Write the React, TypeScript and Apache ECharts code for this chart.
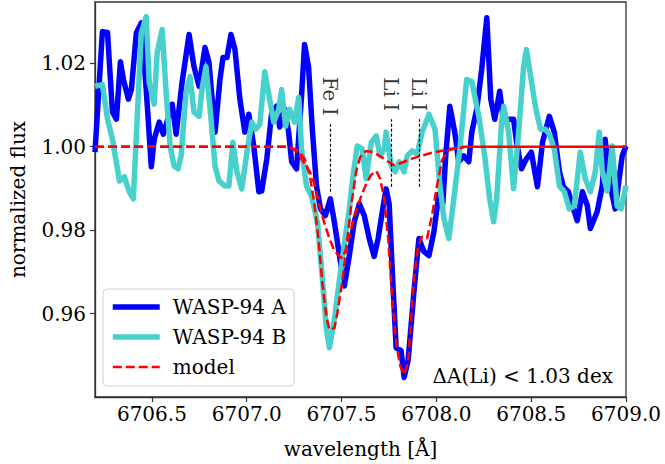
import React, { useEffect, useRef } from "react";
import * as echarts from "echarts";

// WASP-94 A spectrum around the Li 6708 doublet
const waveA = [
  6706.2, 6706.239, 6706.266, 6706.292, 6706.313, 6706.334, 6706.35, 6706.376, 6706.392, 6706.418,
  6706.444, 6706.47, 6706.497, 6706.512, 6706.539, 6706.56, 6706.607, 6706.628, 6706.659, 6706.696,
  6706.722, 6706.749, 6706.78, 6706.801, 6706.833, 6706.859, 6706.875, 6706.896, 6706.917, 6706.938,
  6706.964, 6706.99, 6707.011, 6707.037, 6707.064, 6707.079, 6707.106, 6707.132, 6707.158, 6707.174,
  6707.2, 6707.221, 6707.237, 6707.263, 6707.289, 6707.305, 6707.326, 6707.347, 6707.368, 6707.389,
  6707.415, 6707.441, 6707.462, 6707.489, 6707.515, 6707.541, 6707.567, 6707.594, 6707.62, 6707.646,
  6707.672, 6707.693, 6707.72, 6707.735, 6707.751, 6707.772, 6707.788, 6707.814, 6707.83, 6707.851,
  6707.882, 6707.908, 6707.934, 6707.961, 6707.987, 6708.013, 6708.034, 6708.05, 6708.071, 6708.097,
  6708.118, 6708.144, 6708.171, 6708.187, 6708.213, 6708.239, 6708.266, 6708.287, 6708.308, 6708.334,
  6708.355, 6708.381, 6708.407, 6708.423, 6708.449, 6708.475, 6708.501, 6708.533, 6708.56, 6708.596,
  6708.622, 6708.649, 6708.67, 6708.696, 6708.717, 6708.743, 6708.77, 6708.796, 6708.812, 6708.848,
  6708.875, 6708.89, 6708.917, 6708.943, 6708.98, 6709.0,
];
const fluxA = [
  0.9987, 1.0276, 1.0274, 1.0083, 1.0066, 1.0204, 1.0161, 1.0114, 1.0138, 1.0273,
  1.0297, 1.0138, 0.9952, 1.0018, 1.0059, 1.003, 1.0102, 1.003, 1.0154, 1.0269,
  1.0192, 1.0145, 1.0238, 1.0202, 1.0035, 1.0161, 1.0214, 1.0214, 1.0269, 1.0233,
  1.0114, 1.0035, 1.0078, 1.0002, 0.9892, 0.9894, 0.9971, 1.0083, 1.0097, 1.0047,
  1.009, 1.0035, 0.9964, 0.9947, 1.0121, 1.0245, 1.0192, 1.0035, 0.9906, 0.9851,
  0.9835, 0.9875, 0.982, 0.9739, 0.9666, 0.9739, 0.982, 0.9863, 0.9835, 0.978,
  0.9737, 0.978, 0.9859, 0.9899, 0.9863, 0.9661, 0.9518, 0.9511, 0.9447, 0.9487,
  0.9654, 0.978, 0.9749, 0.9739, 0.9796, 0.9886, 0.9863, 0.9982, 1.0097, 1.0035,
  0.9964, 0.9978, 0.9964, 1.0035, 1.009, 1.0185, 1.0309, 1.0114, 1.0066, 1.0133,
  1.0059, 1.0066, 1.0066, 1.0011, 0.9947, 0.9971, 0.9987, 0.9904, 1.0011, 1.0073,
  1.0035, 0.994, 0.9904, 0.9892, 0.9859, 0.9823, 0.9892, 0.9859, 0.9804, 0.9844,
  0.9906, 1.0018, 0.9906, 0.9851, 0.9978, 1.0002,
];

// WASP-94 B spectrum
const waveB = [
  6706.2, 6706.239, 6706.266, 6706.292, 6706.329, 6706.355, 6706.381, 6706.402, 6706.423, 6706.444,
  6706.47, 6706.486, 6706.512, 6706.528, 6706.554, 6706.575, 6706.596, 6706.617, 6706.638, 6706.654,
  6706.68, 6706.701, 6706.722, 6706.749, 6706.764, 6706.785, 6706.806, 6706.833, 6706.854, 6706.885,
  6706.906, 6706.927, 6706.948, 6706.974, 6707.001, 6707.027, 6707.048, 6707.069, 6707.095, 6707.121,
  6707.142, 6707.169, 6707.184, 6707.205, 6707.226, 6707.253, 6707.274, 6707.289, 6707.315, 6707.342,
  6707.374, 6707.399, 6707.42, 6707.436, 6707.462, 6707.488, 6707.515, 6707.541, 6707.562, 6707.583,
  6707.609, 6707.63, 6707.657, 6707.683, 6707.704, 6707.725, 6707.735, 6707.762, 6707.783, 6707.804,
  6707.83, 6707.846, 6707.872, 6707.899, 6707.925, 6707.961, 6707.993, 6708.019, 6708.04, 6708.066,
  6708.092, 6708.124, 6708.16, 6708.187, 6708.224, 6708.255, 6708.281, 6708.302, 6708.318, 6708.344,
  6708.355, 6708.381, 6708.407, 6708.434, 6708.46, 6708.475, 6708.522, 6708.549, 6708.575, 6708.596,
  6708.622, 6708.649, 6708.675, 6708.701, 6708.727, 6708.759, 6708.785, 6708.812, 6708.838, 6708.859,
  6708.875, 6708.901, 6708.927, 6708.953, 6708.974, 6709.0,
];
const fluxB = [
  1.0145, 1.0149, 1.0066, 1.0018, 0.9918, 0.9928, 0.9892, 0.9875, 1.0073, 1.0273,
  1.0312, 1.0154, 1.0102, 1.0226, 1.0281, 1.013, 1.0002, 0.9954, 0.9947, 0.9978,
  1.013, 1.0168, 1.0083, 1.0073, 1.0137, 1.0192, 1.0097, 0.9954, 0.9918, 0.9906,
  0.9906, 1.0011, 0.994, 0.9899, 0.9987, 1.0059, 1.0042, 1.0054, 1.018, 1.0114,
  1.0059, 1.009, 1.0137, 1.0049, 1.009, 1.0059, 1.0118, 0.9995, 0.9906, 0.9882,
  0.9815, 0.9684, 0.9565, 0.9518, 0.9585, 0.9677, 0.9768, 0.9851, 0.9935, 1.0002,
  0.9995, 0.9923, 1.0011, 1.0026, 0.9978, 0.9995, 1.0035, 0.9954, 0.994, 0.9964,
  0.994, 0.9978, 0.999, 0.9983, 1.0035, 1.0078, 1.0042, 0.9906, 0.9828, 0.978,
  0.9875, 0.9995, 1.0161, 1.0156, 1.0073, 0.9978, 0.9875, 0.982, 0.9875, 1.0059,
  1.0097, 1.0035, 0.9899, 1.0035, 1.0192, 1.0233, 1.0097, 1.0042, 1.0042, 1.003,
  0.9995, 0.9906, 0.9892, 0.9851, 0.9858, 0.9987, 0.9923, 0.9892, 0.994, 1.0035,
  0.994, 0.9894, 1.0002, 0.9858, 0.9851, 0.9906,
];

// Synthetic model fitted to WASP-94 A
const modelWaveA = [
  6706.2, 6707.2, 6707.237, 6707.274, 6707.305, 6707.331, 6707.357, 6707.384, 6707.41, 6707.436,
  6707.462, 6707.489, 6707.504, 6707.525, 6707.552, 6707.578, 6707.604, 6707.63, 6707.657, 6707.683,
  6707.704, 6707.725, 6707.746, 6707.767, 6707.788, 6707.809, 6707.83, 6707.851, 6707.867, 6707.882,
  6707.903, 6707.925, 6707.951, 6707.977, 6708.003, 6708.029, 6708.055, 6708.092, 6708.124, 6708.15,
];
const modelFluxA = [
  1.0, 1.0, 0.9997, 0.9983, 0.9959, 0.9942, 0.9911, 0.9859, 0.9816, 0.978,
  0.9751, 0.9737, 0.9733, 0.9756, 0.9804, 0.9847, 0.9882, 0.9911, 0.9933, 0.9942,
  0.9923, 0.9875, 0.978, 0.9637, 0.953, 0.9475, 0.9454, 0.9482, 0.9589, 0.9684,
  0.976, 0.9785, 0.978, 0.9835, 0.9906, 0.9966, 0.999, 0.9995, 0.9997, 1.0,
];

// Synthetic model fitted to WASP-94 B
const modelWaveB = [
  6706.2, 6707.2, 6707.237, 6707.274, 6707.305, 6707.331, 6707.357, 6707.378, 6707.399, 6707.42,
  6707.436, 6707.462, 6707.478, 6707.504, 6707.525, 6707.552, 6707.578, 6707.599, 6707.63, 6707.667,
  6707.709, 6707.746, 6707.777, 6707.814, 6707.867, 6707.919, 6707.972, 6708.024, 6708.076, 6708.118,
  6708.15,
];
const modelFluxB = [
  1.0, 1.0, 0.9997, 0.999, 0.9971, 0.9935, 0.9863, 0.978, 0.9673, 0.9594,
  0.9561, 0.9565, 0.9601, 0.9677, 0.9756, 0.9863, 0.9942, 0.9976, 0.999, 0.9987,
  0.9976, 0.9964, 0.9956, 0.9961, 0.9971, 0.9978, 0.9985, 0.999, 0.9995, 0.9997,
  1.0,
];

// Both models coincide with the continuum redward of the lines
const continuumWave = [6708.15, 6709.0];
const continuumFlux = [1.0, 1.0];

// Line identifications: label, wavelength, marker extent
const lineLabels = ["Fe I", "Li I", "Li I"];
const lineWaves = [6707.44, 6707.76, 6707.91];
const lineLow = [0.9892, 0.9904, 0.9904];
const lineHigh = [1.0054, 1.0066, 1.0066];
const lineLabelY = [1.0121, 1.0126, 1.0126];

const xTicks = [6706.5, 6707.0, 6707.5, 6708.0, 6708.5, 6709.0];
const yTicks = [0.96, 0.98, 1.0, 1.02];

const zip = (xs: number[], ys: number[]) => xs.map((x, i) => [x, ys[i]]);

const FONT = "'DejaVu Serif', 'Liberation Serif', serif";
const FS = 20;

export default function App() {
  const ref = useRef<HTMLDivElement>(null);

  useEffect(() => {
    if (!ref.current) return;
    const chart = echarts.init(ref.current, undefined, { renderer: "svg" });

    const axisColor = "#333";

    chart.setOption({
      animation: false,
      backgroundColor: "#fff",
      grid: {
        left: 93,
        top: 2,
        right: 39,
        bottom: 65,
        show: true,
        borderColor: axisColor,
        borderWidth: 1.3,
        backgroundColor: "transparent",
      },
      legend: {
        data: ["WASP-94 A", "WASP-94 B", "model"],
        orient: "vertical",
        left: 103,
        top: 289,
        padding: [7, 8, 8, 7],
        itemGap: 8,
        itemWidth: 47,
        itemHeight: 22,
        itemStyle: { opacity: 0 },
        lineStyle: { width: "inherit" },
        backgroundColor: "rgba(255,255,255,0.85)",
        borderColor: "#d0d0d0",
        borderWidth: 1,
        borderRadius: 4,
        textStyle: {
          fontFamily: FONT,
          fontSize: FS,
          color: "#000",
          padding: [0, 0, 0, 8],
          lineHeight: 22,
        },
      },
      xAxis: {
        type: "value",
        min: 6706.2,
        max: 6709.0,
        name: "wavelength [Å]",
        nameLocation: "middle",
        nameGap: 42,
        nameTextStyle: { fontFamily: FONT, fontSize: FS, color: "#000" },
        axisLine: { show: true, onZero: false, lineStyle: { color: axisColor, width: 1.3 } },
        axisTick: {
          show: true,
          length: 5,
          inside: false,
          customValues: xTicks,
          lineStyle: { color: axisColor, width: 1.2 },
        },
        axisLabel: {
          customValues: xTicks,
          margin: 7,
          fontFamily: FONT,
          fontSize: FS,
          color: "#000",
          formatter: (v: number) => v.toFixed(1),
        },
        splitLine: { show: false },
      },
      yAxis: {
        type: "value",
        min: 0.94,
        max: 1.0347,
        name: "normalized flux",
        nameLocation: "middle",
        nameGap: 67,
        nameTextStyle: { fontFamily: FONT, fontSize: FS, color: "#000" },
        axisLine: { show: true, onZero: false, lineStyle: { color: axisColor, width: 1.3 } },
        axisTick: {
          show: true,
          length: 5,
          inside: false,
          customValues: yTicks,
          lineStyle: { color: axisColor, width: 1.2 },
        },
        axisLabel: {
          customValues: yTicks,
          margin: 9,
          fontFamily: FONT,
          fontSize: FS,
          color: "#000",
          formatter: (v: number) => v.toFixed(2),
        },
        splitLine: { show: false },
      },
      series: [
        {
          name: "WASP-94 A",
          type: "line",
          data: zip(waveA, fluxA),
          showSymbol: false,
          symbol: "none",
          lineStyle: { color: "#0000ff", width: 5.5, join: "round" },
          itemStyle: { color: "#0000ff" },
          z: 2,
        },
        {
          name: "WASP-94 B",
          type: "line",
          data: zip(waveB, fluxB),
          showSymbol: false,
          symbol: "none",
          lineStyle: { color: "#48d1cc", width: 5.5, join: "round" },
          itemStyle: { color: "#48d1cc" },
          z: 3,
        },
        {
          name: "model",
          type: "line",
          data: zip(modelWaveA, modelFluxA),
          showSymbol: false,
          symbol: "none",
          lineStyle: { color: "#ff0000", width: 2.5, type: [9, 4] },
          itemStyle: { color: "#ff0000" },
          z: 4,
        },
        {
          name: "model",
          type: "line",
          data: zip(modelWaveB, modelFluxB),
          showSymbol: false,
          symbol: "none",
          lineStyle: { color: "#ff0000", width: 2.5, type: [9, 4] },
          itemStyle: { color: "#ff0000" },
          z: 4,
        },
        {
          name: "model continuum",
          type: "line",
          data: zip(continuumWave, continuumFlux),
          showSymbol: false,
          symbol: "none",
          lineStyle: { color: "#ff0000", width: 2.5 },
          z: 4,
        },
        {
          name: "line ids",
          type: "scatter",
          data: lineWaves.map((w, i) => ({ value: [w, lineLabelY[i]], name: lineLabels[i] })),
          symbolSize: 1,
          itemStyle: { color: "rgba(0,0,0,0)" },
          silent: true,
          z: 5,
          label: {
            show: true,
            position: "inside",
            rotate: -90,
            formatter: (p: any) => p.name,
            fontFamily: FONT,
            fontSize: FS,
            color: "#000",
            align: "center",
            verticalAlign: "middle",
          },
          markLine: {
            silent: true,
            symbol: "none",
            label: { show: false },
            lineStyle: { color: "#000", width: 1.2, type: [3, 2] },
            data: lineWaves.map((w, i) => [
              { coord: [w, lineLow[i]] },
              { coord: [w, lineHigh[i]] },
            ]),
          },
        },
      ],
      graphic: [
        {
          type: "text",
          right: 52,
          top: 366,
          style: {
            text: "ΔA(Li) < 1.03 dex",
            fontFamily: FONT,
            fontSize: FS,
            fill: "#000",
          },
          z: 10,
        },
      ],
    });

    return () => chart.dispose();
  }, []);

  return (
    <div
      ref={ref}
      style={{ position: "fixed", left: 0, top: 0, width: 665, height: 464 }}
    />
  );
}
